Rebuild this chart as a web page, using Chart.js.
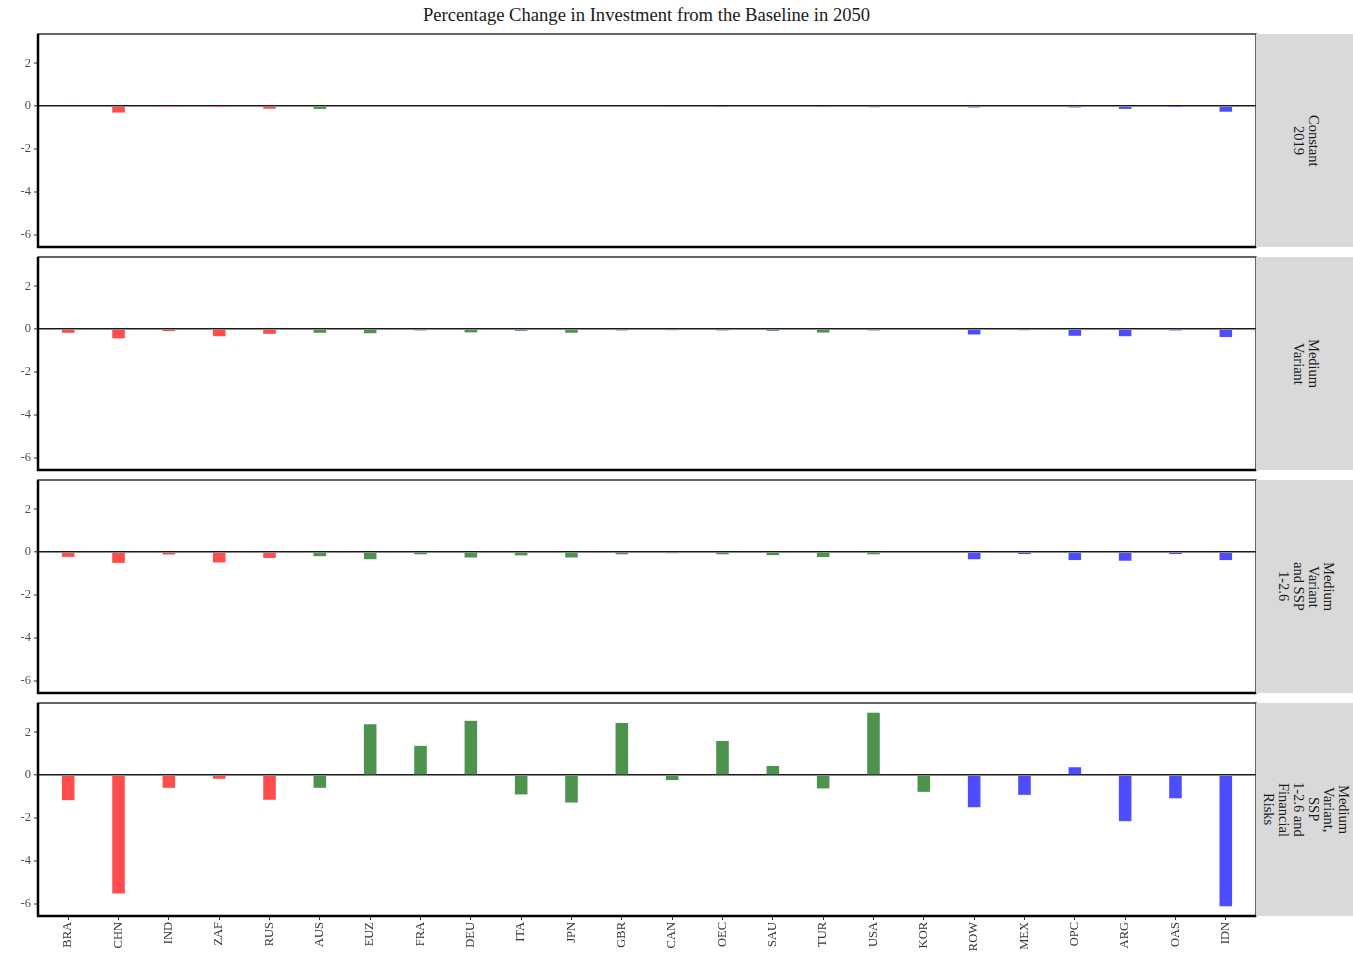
<!DOCTYPE html>
<html>
<head>
<meta charset="utf-8">
<script src="https://cdn.jsdelivr.net/npm/chart.js@4.4.1/dist/chart.umd.min.js"></script>
<style>
  body { margin: 0; background: #fff; width: 1353px; height: 953px; overflow: hidden; position: relative; font-family: "Liberation Serif", "Times New Roman", serif; }
  canvas { position: absolute; left: 0; }
  .title { position: absolute; left: 38px; width: 1217px; top: 3px; text-align: center; font-size: 18.6px; line-height: 24px; color: #1a1a1a; }
  .strip { position: absolute; left: 1256px; width: 97px; height: 213px; background: #d9d9d9; display: flex; align-items: center; justify-content: center; }
  .strip span { writing-mode: vertical-rl; font-size: 14.5px; line-height: 15px; color: #1a1a1a; text-align: center; padding-left: 3px; }
</style>
</head>
<body>
<div class="title">Percentage Change in Investment from the Baseline in 2050</div>
<script>
// Regions, in plotting order
const categories = ['BRA','CHN','IND','ZAF','RUS','AUS','EUZ','FRA','DEU','ITA','JPN','GBR','CAN','OEC','SAU','TUR','USA','KOR','ROW','MEX','OPC','ARG','OAS','IDN'];
// Region group of each category (drives bar colour)
const regionGroups = ['BRICS','BRICS','BRICS','BRICS','BRICS',
  'Advanced','Advanced','Advanced','Advanced','Advanced','Advanced','Advanced','Advanced','Advanced','Advanced','Advanced','Advanced','Advanced',
  'Other','Other','Other','Other','Other','Other'];

// Scenario facets (strip labels, one line per entry)
const scenarioLabels = [
  ['Constant', '2019'],
  ['Medium', 'Variant'],
  ['Medium', 'Variant', 'and SSP', '1-2.6'],
  ['Medium', 'Variant,', 'SSP', '1-2.6 and', 'Financial', 'Risks']
];

// % change in investment from baseline, 2050
const constant2019 = [-0.02,-0.30,-0.01,-0.01,-0.12,-0.13,0.00,0.00,0.00,0.00,-0.03,0.00,-0.02,-0.01,0.00,-0.02,-0.05,0.00,-0.06,0.00,-0.06,-0.13,-0.01,-0.26];
const mediumVariant = [-0.17,-0.43,-0.09,-0.33,-0.22,-0.17,-0.19,-0.06,-0.15,-0.08,-0.17,-0.06,-0.05,-0.06,-0.08,-0.16,-0.06,-0.03,-0.25,-0.05,-0.31,-0.33,-0.06,-0.37];
const mediumVariantSsp126 = [-0.22,-0.50,-0.11,-0.48,-0.27,-0.19,-0.33,-0.10,-0.25,-0.15,-0.25,-0.10,-0.05,-0.10,-0.14,-0.23,-0.10,-0.04,-0.33,-0.09,-0.37,-0.40,-0.09,-0.37];
const mediumVariantSspFinancial = [-1.17,-5.53,-0.59,-0.17,-1.15,-0.59,2.38,1.37,2.54,-0.90,-1.28,2.44,-0.23,1.60,0.43,-0.62,2.92,-0.78,-1.50,-0.92,0.37,-2.15,-1.08,-6.13];

// Y axis tick values
const yTicks = [-6, -4, -2, 0, 2];

const scenarioSeries = [constant2019, mediumVariant, mediumVariantSsp126, mediumVariantSspFinancial];

const groupColors = { BRICS: '#ff4d4d', Advanced: '#4d934d', Other: '#4d4dff' };
const serif = '"Liberation Serif", "Times New Roman", serif';

// Shared y limits across facets, padded like a fixed-scale facet grid
const allValues = scenarioSeries.flat();
const dataMin = Math.min(...allValues), dataMax = Math.max(...allValues);
const pad = (dataMax - dataMin) * 0.05;
const yMin = dataMin - pad, yMax = dataMax + pad;

const panelTops = [34, 257, 480, 703];
const panelHeight = 213;

// Panel frame: thin border all round, heavier axis lines left and bottom
const panelFrame = {
  id: 'panelFrame',
  afterDraw(chart) {
    const { ctx, chartArea: a } = chart;
    ctx.save();
    ctx.strokeStyle = '#333';
    ctx.lineWidth = 1.5;
    ctx.strokeRect(a.left, a.top, a.right - a.left, a.bottom - a.top);
    ctx.strokeStyle = '#000';
    ctx.lineWidth = 2.5;
    ctx.beginPath();
    ctx.moveTo(a.left, a.top);
    ctx.lineTo(a.left, a.bottom);
    ctx.lineTo(a.right, a.bottom);
    ctx.stroke();
    ctx.restore();
  }
};

scenarioSeries.forEach((values, p) => {
  const last = p === scenarioSeries.length - 1;
  const padTop = 12;
  const padBottom = last ? 0 : 12;
  const axisHeight = last ? 37 : 0;

  const canvas = document.createElement('canvas');
  canvas.width = 1353;
  canvas.height = padTop + panelHeight + axisHeight + padBottom;
  canvas.style.top = (panelTops[p] - padTop) + 'px';
  document.body.appendChild(canvas);

  const strip = document.createElement('div');
  strip.className = 'strip';
  strip.style.top = panelTops[p] + 'px';
  const span = document.createElement('span');
  scenarioLabels[p].forEach((line, i) => {
    if (i) span.appendChild(document.createElement('br'));
    span.appendChild(document.createTextNode(line));
  });
  strip.appendChild(span);
  document.body.appendChild(strip);

  new Chart(canvas, {
    type: 'bar',
    data: {
      datasets: [{
        label: scenarioLabels[p].join(' '),
        data: values.map((v, i) => ({ x: i, y: v })),
        backgroundColor: regionGroups.map(g => groupColors[g]),
        borderWidth: 0,
        barPercentage: 0.25,
        categoryPercentage: 1
      }]
    },
    options: {
      responsive: false,
      animation: false,
      devicePixelRatio: 1,
      layout: { padding: { left: 0, right: 97, top: padTop, bottom: padBottom } },
      plugins: { legend: { display: false }, tooltip: { enabled: false }, title: { display: false } },
      scales: {
        x: {
          type: 'linear',
          offset: false,
          min: -0.6,
          max: categories.length - 0.4,
          display: last,
          afterBuildTicks: axis => { axis.ticks = categories.map((c, i) => ({ value: i })); },
          afterFit: axis => { axis.height = axisHeight; },
          grid: { offset: false, drawOnChartArea: false, drawTicks: true, tickLength: 4, tickColor: '#333', tickWidth: 1 },
          border: { display: false },
          ticks: {
            autoSkip: false,
            maxRotation: 90,
            minRotation: 90,
            padding: 2,
            color: '#333',
            font: { family: serif, size: 12.5 },
            callback: v => categories[v]
          }
        },
        y: {
          min: yMin,
          max: yMax,
          z: 1,
          afterBuildTicks: axis => { axis.ticks = yTicks.map(v => ({ value: v })); },
          afterFit: axis => { axis.width = 38; },
          grid: {
            drawOnChartArea: true,
            color: c => (c.tick && c.tick.value === 0) ? '#1a1a1a' : 'rgba(0,0,0,0)',
            lineWidth: c => (c.tick && c.tick.value === 0) ? 1.6 : 0,
            drawTicks: true,
            tickLength: 4,
            tickColor: '#333',
            tickWidth: 1
          },
          border: { display: false },
          ticks: {
            padding: 3,
            color: '#4d4d4d',
            font: { family: serif, size: 12.5 },
            callback: v => String(v)
          }
        }
      }
    },
    plugins: [panelFrame]
  });
});
</script>
</body>
</html>
